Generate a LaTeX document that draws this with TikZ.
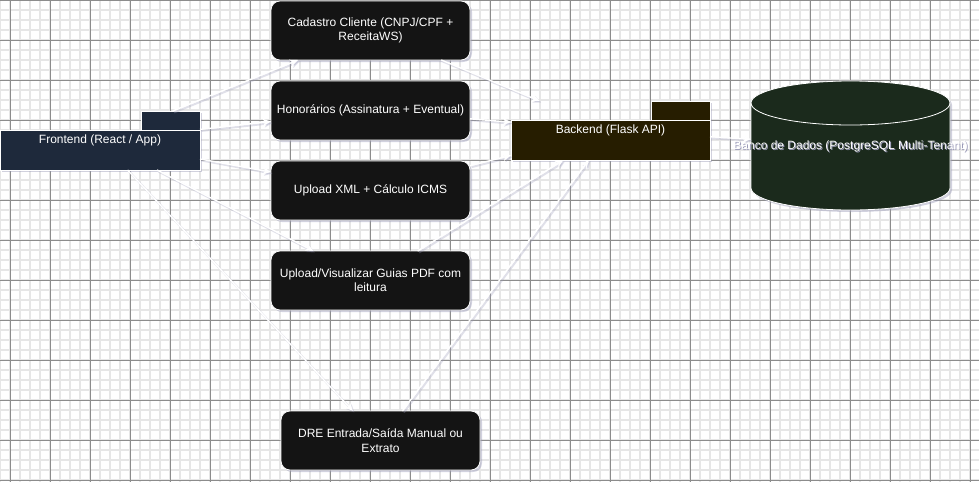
\documentclass[tikz,border=0pt]{standalone}
\usepackage{fontspec}
\setmainfont{Liberation Sans}
\usetikzlibrary{arrows.meta,shadows}
\definecolor{fecol}{HTML}{1E293B}
\definecolor{modcol}{HTML}{141414}
\definecolor{becol}{HTML}{261D00}
\definecolor{dbcol}{HTML}{1B2A1C}
\definecolor{gridmaj}{HTML}{8C8C8C}
\definecolor{gridmin}{HTML}{E6E6E6}
\definecolor{shadowc}{HTML}{9A9AB8}
\begin{document}
\begin{tikzpicture}[x=1pt,y=-1pt,
  lbl/.style={inner sep=0pt, outer sep=0pt, text=white, font=\fontsize{12}{14.4}\selectfont, align=center},
  bbox/.style={lbl, draw=none, rectangle, minimum width=199pt, minimum height=59pt},
  modbox/.style={bbox, rounded corners=9pt, fill=modcol, draw=white, line width=0.8pt,
    drop shadow={shadow xshift=2pt, shadow yshift=-2pt, fill=shadowc, opacity=0.45}},
  shapeshadow/.style={fill=shadowc, opacity=0.45},
  gmin/.style={draw=gridmin, line width=1.2pt},
  gmaj/.style={draw=gridmaj, line width=0.8pt},
  edge/.style={draw=white, line width=1.4pt, -{Stealth[length=8pt,width=7pt,inset=2pt,fill=white]}},
  eshadow/.style={draw=shadowc, opacity=0.3, line width=2pt, -{Stealth[length=8pt,width=7pt,inset=2pt]},
    transform canvas={shift={(1.5pt,-1.5pt)}}},
  outl/.style={draw=white, line width=0.8pt}
]
\newcommand\conn[2]{\draw[eshadow] (#1) -- (#2); \draw[edge] (#1) -- (#2);}
\useasboundingbox (0,0) rectangle (979,482);
\clip (0,0) rectangle (979,482);
\fill[white] (0,0) rectangle (979,482);
% grid
\foreach \x in {0,10,...,970} \draw[gmin] (\x,0) -- (\x,482);
\foreach \y in {0,10,...,480} \draw[gmin] (0,\y) -- (979,\y);
\foreach \x in {10,50,...,970} \draw[gmaj] (\x,0) -- (\x,482);
\foreach \y in {0,40,...,480} \draw[gmaj] (0,\y) -- (979,\y);

% frontend folder shape
\fill[shapeshadow] (2,132) rectangle (202,172);
\fill[shapeshadow] (143,113) rectangle (202,132);
\filldraw[fill=fecol, outl] (141,111) rectangle (200,130);
\filldraw[fill=fecol, outl] (0,130) rectangle (200,170);

% backend folder shape
\fill[shapeshadow] (513,122) rectangle (712,162);
\fill[shapeshadow] (653,103) rectangle (712,122);
\filldraw[fill=becol, outl] (651,101) rectangle (710,120);
\filldraw[fill=becol, outl] (511,120) rectangle (710,160);

% database cylinder
\fill[shapeshadow] (753,105) -- (753,190) arc[start angle=180,end angle=360,x radius=99.5pt,y radius=22pt]
  -- (952,105) arc[start angle=0,end angle=180,x radius=99.5pt,y radius=22pt] -- cycle;
\filldraw[fill=dbcol, outl] (751,103) -- (751,188) arc[start angle=180,end angle=360,x radius=99.5pt,y radius=22pt]
  -- (950,103) arc[start angle=0,end angle=180,x radius=99.5pt,y radius=22pt] -- cycle;
\draw[outl] (751,103) arc[start angle=180,end angle=360,x radius=99.5pt,y radius=22pt];

% nodes
\node[bbox, minimum width=200pt] (fe) at (100,140.5) {Frontend (React / App)};
\node[bbox] (be) at (610.5,130.5) {Backend (Flask API)};
\node[bbox, minimum height=129pt] (db) at (850.5,145.5) {};
\node[modbox] (cad) at (370.5,30.5) {Cadastro Cliente (CNPJ/CPF +\\ReceitaWS)};
\node[modbox] (hon) at (370.5,110.5) {Honorários (Assinatura + Eventual)};
\node[modbox] (xml) at (370.5,190.5) {Upload XML + Cálculo ICMS};
\node[modbox] (pdf) at (370.5,280.5) {Upload/Visualizar Guias PDF com\\leitura};
\node[modbox] (dre) at (380.5,440.5) {DRE Entrada/Saída Manual ou\\Extrato};

% connectors
\conn{fe}{cad}
\conn{fe}{hon}
\conn{fe}{xml}
\conn{fe}{pdf}
\conn{fe}{dre}
\conn{cad}{be}
\conn{hon}{be}
\conn{xml}{be}
\conn{pdf}{be}
\conn{dre}{be}
\conn{be}{db}

% database label
\node[lbl, text=shadowc] (dbts) at (851.5,147) {Banco de Dados (PostgreSQL Multi-Tenant)};
\node[lbl] (dbt) at (850.5,146) {Banco de Dados (PostgreSQL Multi-Tenant)};
\end{tikzpicture}
\end{document}
